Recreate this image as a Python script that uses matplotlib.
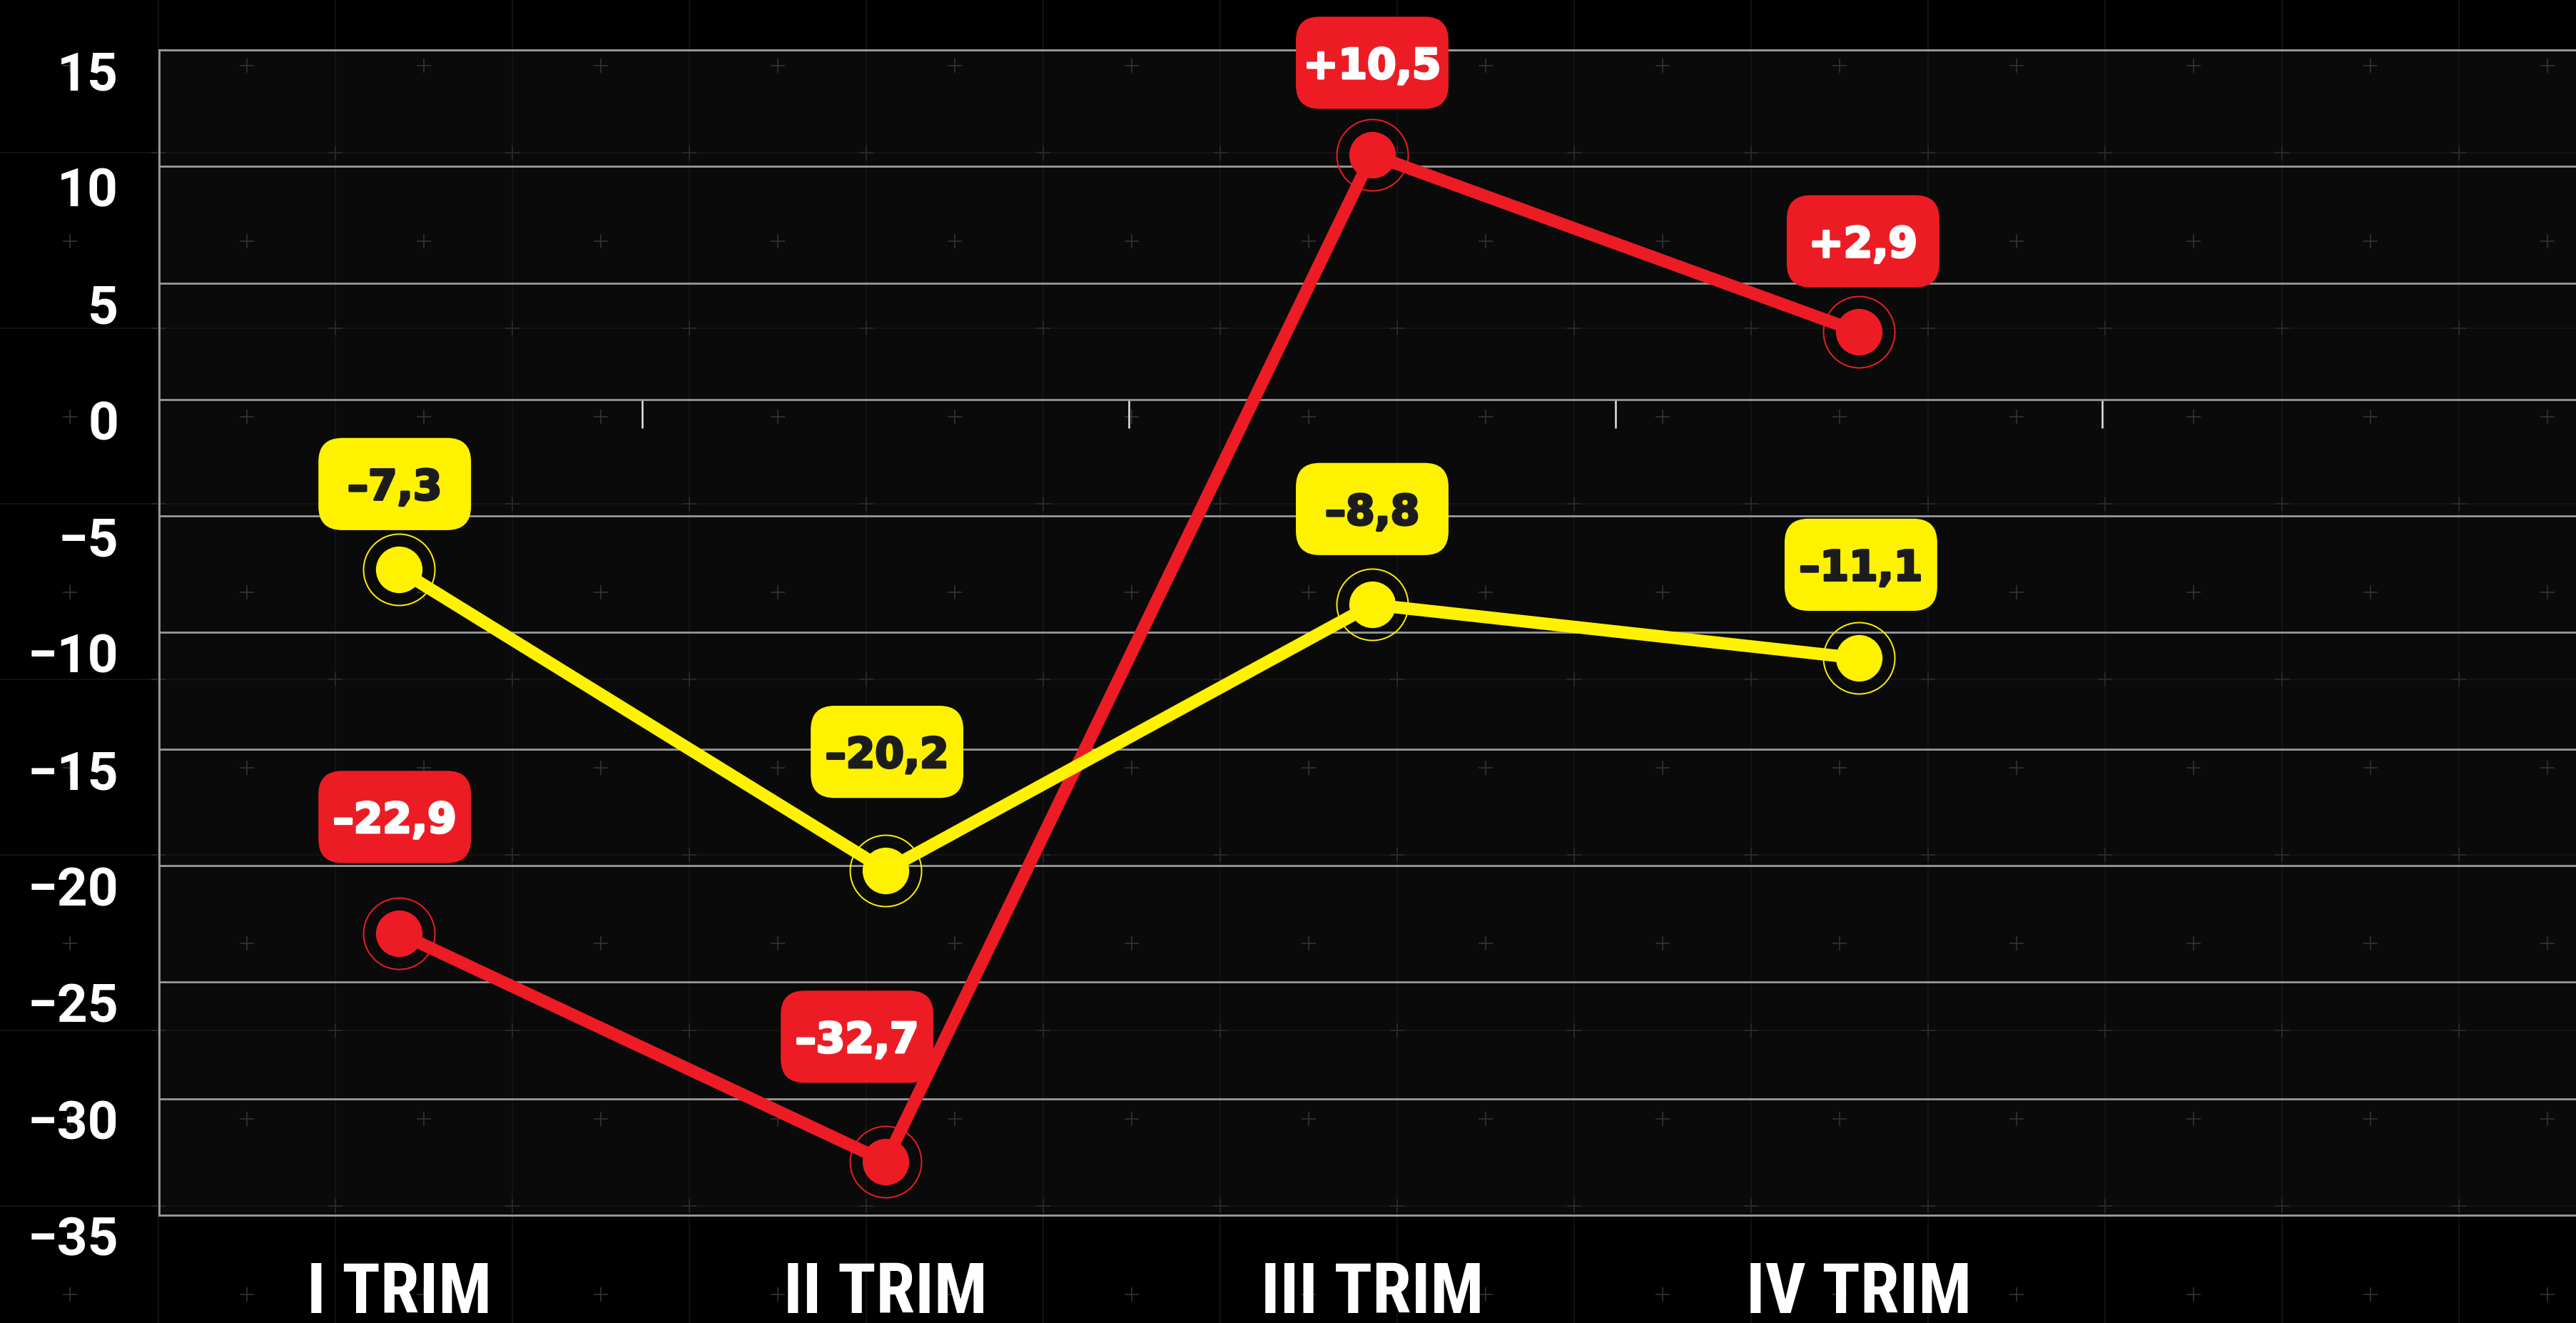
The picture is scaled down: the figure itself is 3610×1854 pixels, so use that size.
import numpy as np
import matplotlib
matplotlib.use("Agg")
import matplotlib.pyplot as plt
import matplotlib.patheffects as pe
from matplotlib.patches import FancyBboxPatch, Rectangle
from matplotlib.transforms import Affine2D, ScaledTranslation

# ---------------- data ----------------
categories = ["I TRIM", "II TRIM", "III TRIM", "IV TRIM"]
red_values = [-22.9, -32.7, 10.5, 2.9]
yellow_values = [-7.3, -20.2, -8.8, -11.1]
red_labels = ["\u201322,9", "\u201332,7", "+10,5", "+2,9"]
yellow_labels = ["\u20137,3", "\u201320,2", "\u20138,8", "\u201311,1"]
y_ticks = [-35, -30, -25, -20, -15, -10, -5, 0, 5, 10, 15]
y_tick_labels = ["\u221235", "\u221230", "\u221225", "\u221220", "\u221215",
                 "\u221210", "\u22125", "0", "5", "10", "15"]

# label box placement (pixels, relative to the point)
red_box_dy = [163, 175, 129, 127]
red_box_dx = [-6, -40, 0, 6]
yel_box_dy = [120, 166, 134, 131]
yel_box_dx = [-6, 2, 0, 3]

RED = "#ED1C24"
YELLOW = "#FFF200"
GRID = "#9a9a9a"
COND = ["Roboto Condensed", "Liberation Sans Narrow", "Roboto", "DejaVu Sans"]
YTF = ["Roboto", "DejaVu Sans"]
LABF = ["DejaVu Sans"]

W, H, DPI = 3610, 1854, 100
fig = plt.figure(figsize=(W / DPI, H / DPI), dpi=DPI, facecolor="black")

# ---------------- background pattern ----------------
bg = fig.add_axes([0, 0, 1, 1], zorder=-10)
bg.set_xlim(0, W)
bg.set_ylim(H, 0)
bg.axis("off")
bg.set_facecolor("black")
ax_left, ax_top, ax_bottom = 223, 70, 1703
bg.add_patch(Rectangle((ax_left, ax_top), W - ax_left, ax_bottom - ax_top,
                       facecolor="#0a0a0a", edgecolor="none", zorder=0))
bx = np.arange(222 - 248, W + 248, 248)
by = np.arange(214 - 246, H + 246, 246)
for xv in bx:
    bg.axvline(xv, color="#151515", lw=1.2, zorder=1)
for yv in by:
    bg.axhline(yv, color="#151515", lw=1.2, zorder=1)
gx, gy = np.meshgrid(bx, by)
bg.scatter(gx.ravel(), gy.ravel(), marker="+", s=200, linewidths=1.3,
           color="#2a2a2a", zorder=2)
ax_ = np.arange(98, W + 248, 248)
ay_ = np.arange(91.5, H + 246, 246)
hx, hy = np.meshgrid(ax_, ay_)
bg.scatter(hx.ravel(), hy.ravel(), marker="+", s=200, linewidths=1.3,
           color="#303030", zorder=2)

# ---------------- main axes ----------------
ax = fig.add_axes([ax_left / W, 1 - ax_bottom / H, (W - ax_left) / W,
                   (ax_bottom - ax_top) / H])
ax.set_facecolor("none")
x = np.arange(len(categories))
ax.set_xlim(-0.493, 4.474)
ax.set_ylim(-35, 15)

ax.set_yticks(y_ticks)
ax.set_yticklabels(y_tick_labels)
ax.yaxis.grid(True, color=GRID, lw=2.0)
ax.xaxis.grid(False)
ax.set_axisbelow(True)
for s in ["left", "top", "bottom"]:
    ax.spines[s].set_color(GRID)
    ax.spines[s].set_linewidth(2.0)
ax.spines["right"].set_visible(False)

ax.tick_params(axis="y", length=0, pad=41, labelsize=54, labelcolor="white")
for lbl in ax.get_yticklabels():
    lbl.set_fontfamily(YTF)
    lbl.set_fontweight("bold")
    lbl.set_transform(lbl.get_transform() + ScaledTranslation(0, -29 / DPI, fig.dpi_scale_trans))

ax.set_xticks(x)
ax.set_xticklabels(categories)
ax.tick_params(axis="x", length=0, pad=79, labelsize=71, labelcolor="white")
for lbl in ax.get_xticklabels():
    lbl.set_fontfamily(COND)
    lbl.set_fontweight("bold")
    lbl.set_va("center")

# small ticks hanging from the zero line
sec = ax.secondary_xaxis((0 - (-35)) / 50)
sec.set_xticks(list(np.arange(len(categories)) + 0.5))
sec.tick_params(direction="in", length=29, width=1.8, color="#e6e6e6",
                labeltop=False, labelbottom=False, top=True, bottom=False)
for s in sec.spines.values():
    s.set_visible(False)

# ---------------- series ----------------
for vals, col, z in [(red_values, RED, 5), (yellow_values, YELLOW, 6)]:
    ax.plot(x, vals, color=col, lw=12.5, solid_capstyle="round", zorder=z,
            marker="o", markersize=47, markerfacecolor=col, markeredgewidth=0)
    ax.plot(x, vals, linestyle="none", marker="o", markersize=72,
            markerfacecolor="none", markeredgecolor=col, markeredgewidth=1.4,
            zorder=z)

# ---------------- value boxes ----------------
bw, bh, rr = 154, 93, 24  # points
px2pt = 72 / DPI


def add_box(xi, yi, text, face, tcolor, dx, dy, z):
    tr = Affine2D().scale(DPI / 72) + ScaledTranslation(xi, yi, ax.transData)
    cx, cy = dx * px2pt, dy * px2pt
    ax.add_patch(FancyBboxPatch((cx - bw / 2, cy - bh / 2), bw, bh,
                                boxstyle=f"round,pad=0,rounding_size={rr}",
                                facecolor=face, edgecolor="none",
                                transform=tr, zorder=z, clip_on=False))
    ax.text(cx, cy - 15.8, text, transform=tr, ha="center", va="baseline",
            fontsize=42, fontweight="bold", family=LABF, color=tcolor,
            zorder=z + 0.1, clip_on=False,
            path_effects=[pe.withStroke(linewidth=2.4, foreground=tcolor)])


for i in range(len(categories)):
    add_box(x[i], red_values[i], red_labels[i], RED, "white",
            red_box_dx[i], red_box_dy[i], 4)
    add_box(x[i], yellow_values[i], yellow_labels[i], YELLOW, "#1c1c1c",
            yel_box_dx[i], yel_box_dy[i], 4)

fig.savefig("out.png", dpi=DPI, facecolor="black")
